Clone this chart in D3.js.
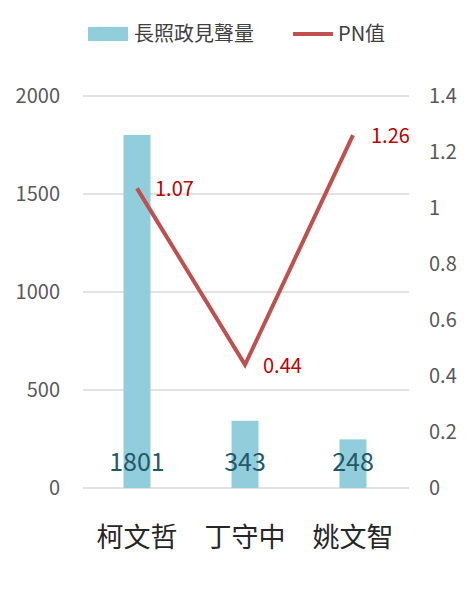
<!DOCTYPE html><html><head><meta charset="utf-8"><script src="https://d3js.org/d3.v7.min.js"></script>
<style>body{margin:0;background:#fff}</style></head><body><svg id="c" width="474" height="602"></svg>
<script>
const categories=["柯文哲","丁守中","姚文智"];
const volume=[1801,343,248];
const pn=[1.07,0.44,1.26];
const leftTicks=[0,500,1000,1500,2000];
const rightTicks=[0,0.2,0.4,0.6,0.8,1,1.2,1.4];
const svg=d3.select("#c");
const font="'Noto Sans CJK TC','Noto Sans',sans-serif";
const x=d3.scalePoint().domain(categories).range([83,407]).padding(0.5);
const bw=27;
const yL=d3.scaleLinear().domain([0,2000]).range([488,96]);
const yR=d3.scaleLinear().domain([0,1.4]).range([488,96]);
svg.append("g").selectAll("line").data(leftTicks).join("line")
 .attr("x1",83).attr("x2",409).attr("y1",d=>yL(d)).attr("y2",d=>yL(d)).attr("stroke","#d9d9d9").attr("stroke-width",1.5);
svg.append("g").selectAll("text").data(leftTicks).join("text").attr("x",60).attr("y",d=>yL(d)+7)
 .attr("text-anchor","end").attr("font-size",20).attr("font-family",font).attr("fill","#595959").text(d=>d);
svg.append("g").selectAll("text").data(rightTicks).join("text").attr("x",429).attr("y",d=>yR(d)+7)
 .attr("font-size",20).attr("font-family",font).attr("fill","#595959").text(d=>d);
const cx=(d,i)=>x(categories[i]);
svg.append("g").selectAll("rect").data(volume).join("rect").attr("x",(d,i)=>cx(d,i)-bw/2).attr("width",bw)
 .attr("y",d=>yL(d)).attr("height",d=>yL(0)-yL(d)).attr("fill","#92CDDC");
svg.append("g").selectAll("text").data(volume).join("text").attr("x",cx).attr("y",471)
 .attr("text-anchor","middle").attr("font-size",25).attr("font-family",font).attr("fill","#215968").text(d=>d);
svg.append("path").datum(pn).attr("d",d3.line().x(cx).y(d=>yR(d))).attr("fill","none").attr("stroke","#C0504D").attr("stroke-width",4);
svg.append("g").selectAll("text").data(pn).join("text").attr("x",(d,i)=>cx(d,i)+18).attr("y",d=>yR(d)+8)
 .attr("font-size",20).attr("font-family",font).attr("fill","#C00000").text(d=>d.toFixed(2));
svg.append("g").selectAll("text").data(categories).join("text").attr("x",cx).attr("y",547)
 .attr("text-anchor","middle").attr("font-size",27).attr("font-family",font).attr("fill","#262626").text(d=>d);
svg.append("rect").attr("x",88).attr("y",27).attr("width",40).attr("height",14).attr("fill","#92CDDC");
svg.append("text").attr("x",134).attr("y",41).attr("font-size",20).attr("font-family",font).attr("fill","#404040").text("長照政見聲量");
svg.append("line").attr("x1",293).attr("x2",333).attr("y1",34).attr("y2",34).attr("stroke","#C0504D").attr("stroke-width",4);
svg.append("text").attr("x",338).attr("y",41).attr("font-size",20).attr("font-family",font).attr("fill","#404040").text("PN值");
</script></body></html>
